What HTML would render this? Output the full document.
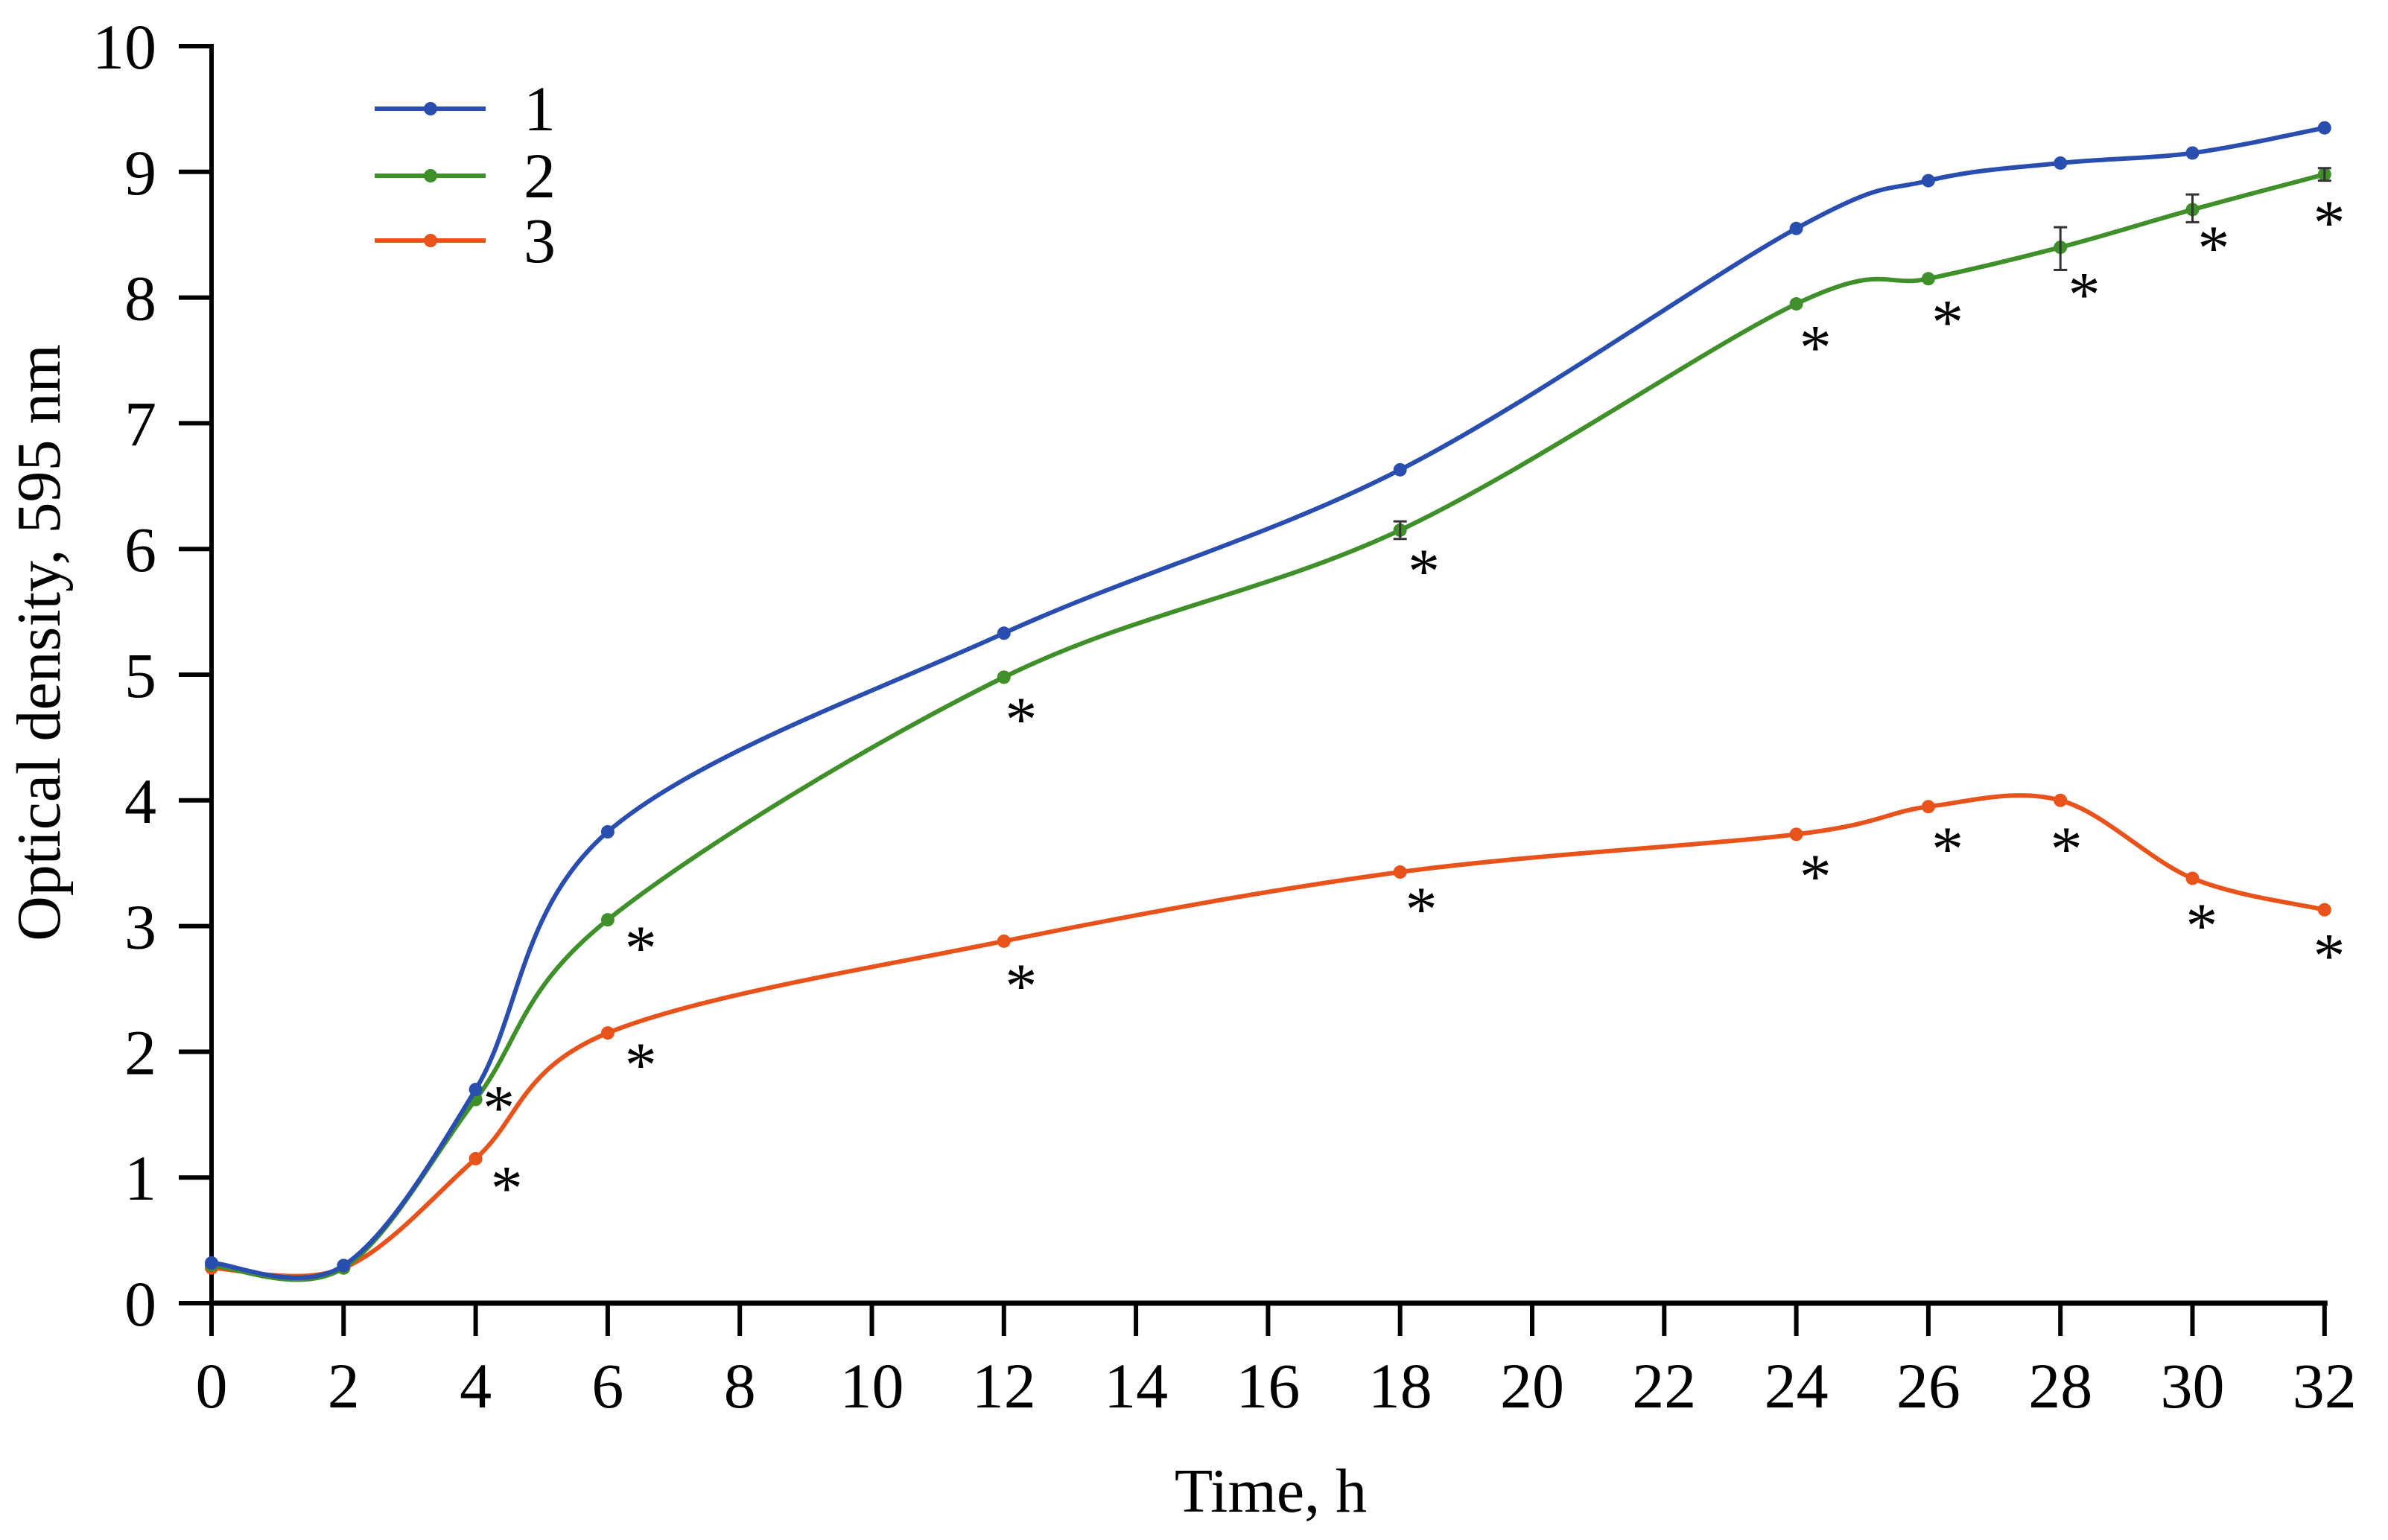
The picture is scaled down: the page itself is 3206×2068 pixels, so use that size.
<!DOCTYPE html>
<html><head><meta charset="utf-8"><style>
html,body{margin:0;padding:0;background:#fff}
svg{display:block}
svg text{font-family:"Liberation Serif","Times New Roman",Times,serif;fill:#000}
</style></head><body>
<svg id="chart" width="3206" height="2068" viewBox="0 0 3206 2068" xmlns="http://www.w3.org/2000/svg" font-family="Liberation Serif, Times New Roman, serif">
<g id="axes"></g>
<g id="series"></g>
<g id="stars"></g>
<g id="legend"></g>
<text x="0" y="0" font-size="84" text-anchor="middle" transform="translate(80,863) rotate(-90)">Optical density, 595 nm</text>
<text x="1706" y="2030" font-size="84" text-anchor="middle">Time, h</text>
</svg>
<script>
const times = [0, 2, 4, 6, 12, 18, 24, 26, 28, 30, 32];
const series1 = [0.32, 0.30, 1.70, 3.75, 5.33, 6.63, 8.55, 8.93, 9.07, 9.15, 9.35];
const series2 = [0.30, 0.28, 1.62, 3.05, 4.98, 6.15, 7.95, 8.15, 8.40, 8.70, 8.98];
const series3 = [0.28, 0.28, 1.15, 2.15, 2.88, 3.43, 3.73, 3.95, 4.00, 3.38, 3.13];
const errLow2 = [0, 0, 0, 0, 0, 6.08, 0, 0, 8.22, 8.60, 8.93];
const errHigh2 = [0, 0, 0, 0, 0, 6.22, 0, 0, 8.56, 8.82, 9.03];
const xTicks = [0,2,4,6,8,10,12,14,16,18,20,22,24,26,28,30,32];
const yTicks = [0,1,2,3,4,5,6,7,8,9,10];
const starT = [12.26,6.5,4.35,4.47,6.5,12.26,18.36,18.32,24.29,24.29,26.29,26.29,28.36,28.09,30.32,30.14,32.07,32.07];
const starV = [4.71,2.89,1.62,0.98,1.96,2.59,5.89,3.2,7.67,3.46,7.87,3.68,8.09,3.68,8.46,3.07,8.66,2.83];
const legendLabels = ["1","2","3"];

const NS="http://www.w3.org/2000/svg";
const X0=284, XU=88.65, Y0=1750, YU=168.8;
const xs=t=>X0+XU*t, ys=v=>Y0-YU*v;
function mk(tag,attrs,parent){const e=document.createElementNS(NS,tag);for(const k in attrs)e.setAttribute(k,attrs[k]);parent.appendChild(e);return e;}
const axes=document.getElementById('axes');
let e;
e=mk('line',{x1:X0,y1:Y0,x2:xs(32)+4,y2:Y0,stroke:'#000','stroke-width':7},axes);


e=mk('line',{x1:X0,y1:Y0+3,x2:X0,y2:ys(10)-3,stroke:'#000','stroke-width':6},axes);


xTicks.forEach(t=>{
  const l=mk('line',{x1:xs(t),y1:Y0,x2:xs(t),y2:Y0+44,stroke:'#000','stroke-width':6},axes);
  
  
  const tx=mk('text',{x:xs(t),y:Y0+140,'font-size':86,'text-anchor':'middle'},axes);
  tx.textContent=t;
  
  
});
yTicks.forEach(v=>{
  const l=mk('line',{x1:X0-44,y1:ys(v),x2:X0,y2:ys(v),stroke:'#000','stroke-width':6},axes);
  
  
  const tx=mk('text',{x:X0-74,y:ys(v)+30,'font-size':86,'text-anchor':'end'},axes);
  tx.textContent=v;
  
  
});
function spline(vals){
  const p=times.map((t,i)=>[xs(t),ys(vals[i])]);
  let d=`M${p[0][0]},${p[0][1]}`;
  for(let i=0;i<p.length-1;i++){
    const a=p[Math.max(i-1,0)],b=p[i],c=p[i+1],f=p[Math.min(i+2,p.length-1)];
    const c1=[b[0]+(c[0]-a[0])/6,b[1]+(c[1]-a[1])/6];
    const c2=[c[0]-(f[0]-b[0])/6,c[1]-(f[1]-b[1])/6];
    d+=` C${c1[0]},${c1[1]} ${c2[0]},${c2[1]} ${c[0]},${c[1]}`;
  }
  return d;
}
const sg=document.getElementById('series');
const all=[[series3,'#e8531c','series-3'],[series2,'#3f8f2a','series-2'],[series1,'#2a4eb0','series-1']];
all.forEach(([vals,col,name])=>{
  const g=mk('g',{},sg);
  
  
  const p=mk('path',{d:spline(vals),fill:'none',stroke:col,'stroke-width':6},g);
  
  
  times.forEach((t,i)=>{
    const c=mk('circle',{cx:xs(t),cy:ys(vals[i]),r:9,fill:col},g);
    
    
  });
});
times.forEach((t,i)=>{
  if(!errHigh2[i])return;
  const x=xs(t);
  const g=mk('g',{stroke:'#333','stroke-width':3},sg);
  
  
  mk('line',{x1:x,y1:ys(errLow2[i]),x2:x,y2:ys(errHigh2[i])},g);
  mk('line',{x1:x-9,y1:ys(errLow2[i]),x2:x+9,y2:ys(errLow2[i])},g);
  mk('line',{x1:x-9,y1:ys(errHigh2[i]),x2:x+9,y2:ys(errHigh2[i])},g);
});
const st=document.getElementById('stars');
starT.forEach((t,i)=>{
  const s=mk('text',{x:xs(t),y:ys(starV[i])+40,'font-size':86,'text-anchor':'middle'},st);
  s.textContent='*';
  
  
});
const lg=document.getElementById('legend');
const lcols=['#2a4eb0','#3f8f2a','#e8531c'];
const ly=[146,236,323];
legendLabels.forEach((lab,i)=>{
  const g=mk('g',{},lg);
  
  
  mk('line',{x1:503,y1:ly[i],x2:652,y2:ly[i],stroke:lcols[i],'stroke-width':6},g);
  mk('circle',{cx:578,cy:ly[i],r:9,fill:lcols[i]},g);
  const tx=mk('text',{x:703,y:ly[i]+29,'font-size':86},g);
  tx.textContent=lab;
});
</script>
</body></html>
